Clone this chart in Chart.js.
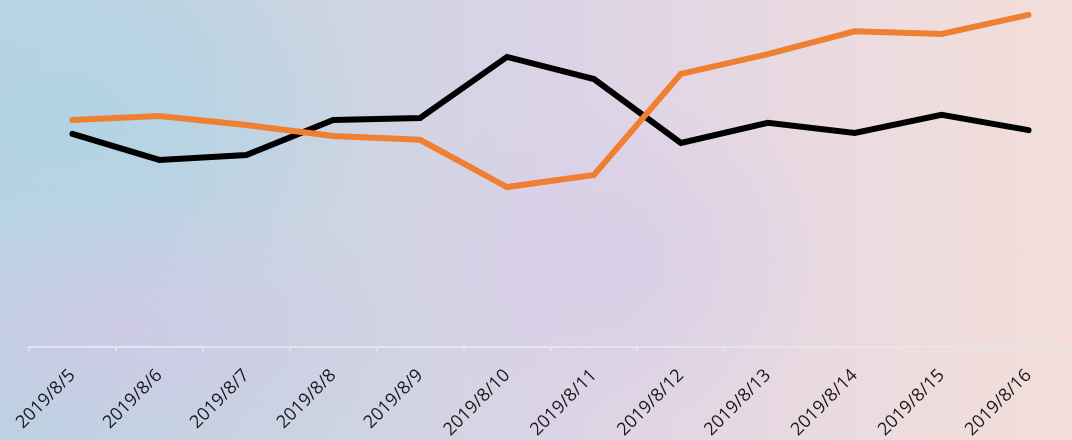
<!DOCTYPE html>
<html>
<head>
<meta charset="utf-8">
<script src="https://cdn.jsdelivr.net/npm/chart.js@4"></script>
<style>
  html, body { margin: 0; padding: 0; width: 1072px; height: 440px; overflow: hidden; }
  body {
    background:
      radial-gradient(ellipse 420px 200px at 120px 330px, rgba(214,196,232,0.6), rgba(214,196,232,0) 70%),
      radial-gradient(ellipse 380px 260px at 80px 120px, rgba(176,212,228,0.9), rgba(176,212,228,0) 75%),
      radial-gradient(ellipse 300px 220px at 620px 260px, rgba(214,204,232,0.7), rgba(214,204,232,0) 75%),
      linear-gradient(90deg, #b9d3e2 0%, #ccd4e2 30%, #dad3e6 50%, #e6d8e2 70%, #eedcde 85%, #f2ddd8 100%);
  }
  #wrap { position: absolute; left: 0; top: 0; width: 1072px; height: 440px; }
</style>
</head>
<body>
<div id="wrap"><canvas id="lineChart"></canvas></div>
<script>
// dates on the x axis
const dates = ['2019/8/5', '2019/8/6', '2019/8/7', '2019/8/8', '2019/8/9', '2019/8/10',
               '2019/8/11', '2019/8/12', '2019/8/13', '2019/8/14', '2019/8/15', '2019/8/16'];
// the two series (y axis hidden, 0..100)
const orangeSeries = [65.4, 66.6, 64.0, 60.8, 59.7, 46.1, 49.6, 78.7, 84.4, 91.0, 90.2, 95.7];
const blackSeries  = [61.4, 53.9, 55.3, 65.4, 66.0, 83.6, 77.2, 58.8, 64.6, 61.7, 66.9, 62.5];

const ctx = document.getElementById('lineChart');
const chart = new Chart(ctx, {
  type: 'line',
  data: {
    labels: dates,
    datasets: [
      { label: 'A', data: orangeSeries, borderColor: '#ef7f31', borderWidth: 6,
        pointRadius: 0, tension: 0, borderCapStyle: 'round' },
      { label: 'B', data: blackSeries, borderColor: '#000000', borderWidth: 6,
        pointRadius: 0, tension: 0, borderCapStyle: 'round' }
    ]
  },
  options: {
    responsive: true,
    maintainAspectRatio: false,
    animation: false,
    layout: { padding: { top: 0, left: 29, right: 0, bottom: 0 } },
    plugins: { legend: { display: false }, tooltip: { enabled: false } },
    scales: {
      x: {
        offset: true,
        afterFit: (scale) => { scale.height = 93; }, // axis line sits at y=347
        grid: { display: true, offset: true, drawOnChartArea: false, tickLength: 4,
                color: 'rgba(225,232,234,0.9)', lineWidth: 2 },
        border: { display: true, color: 'rgba(225,232,234,0.9)', width: 2 },
        ticks: { color: '#1a1a1a', font: { family: 'Open Sans', size: 18 },
                 minRotation: 45, maxRotation: 45, padding: 14, autoSkip: false }
      },
      y: { display: false, min: 0, max: 100 }
    }
  }
});
</script>
</body>
</html>
